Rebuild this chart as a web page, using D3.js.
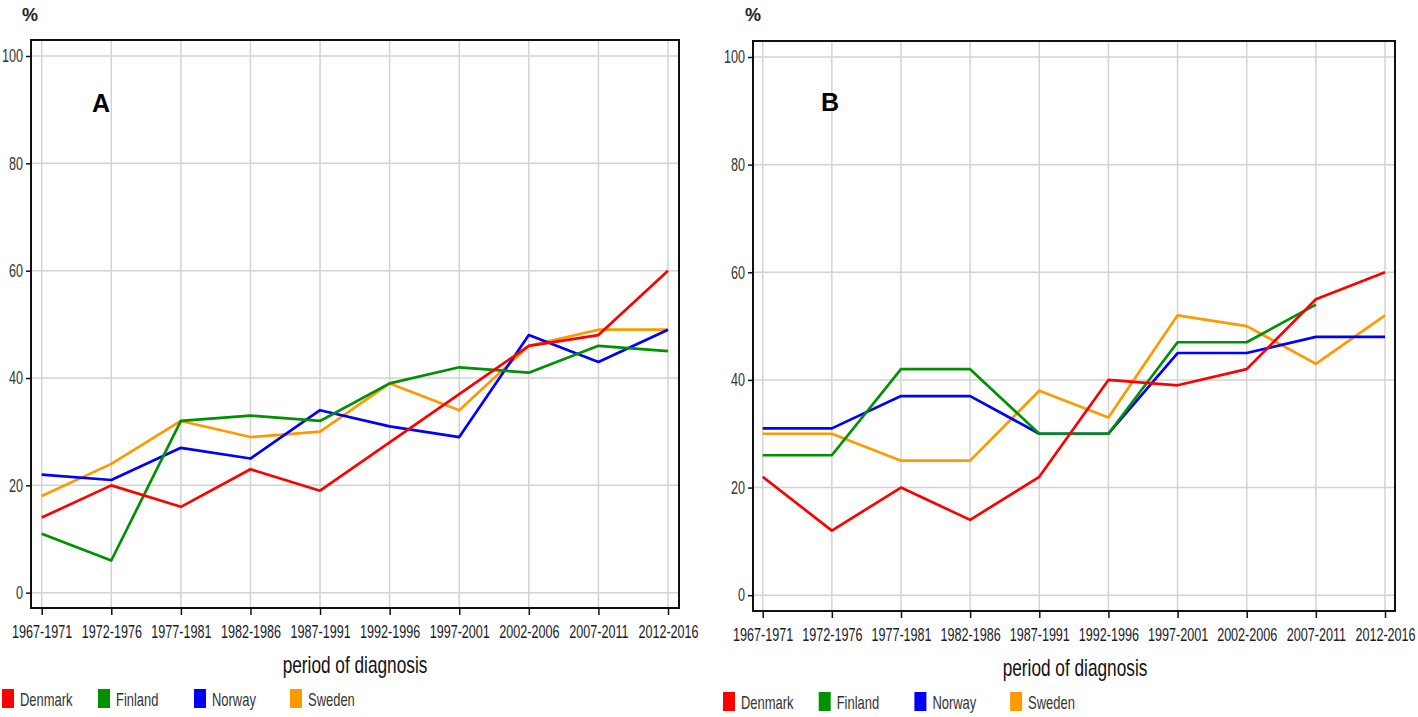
<!DOCTYPE html>
<html><head><meta charset="utf-8">
<script src="https://cdn.jsdelivr.net/npm/d3@7"></script>
<style>
body{margin:0;background:#fff;}
text{font-family:"Liberation Sans",Arial,sans-serif;}
</style></head>
<body><svg id="chart" width="1418" height="717"></svg>
<script>
const periods = ["1967-1971","1972-1976","1977-1981","1982-1986","1987-1991","1992-1996","1997-2001","2002-2006","2007-2011","2012-2016"];
const yTicks = [0,20,40,60,80,100];
const countries = ["Denmark","Finland","Norway","Sweden"];
const colors = ["#ff0000","#009100","#0000ff","#ff9900"];

const denmarkA = [14,20,16,23,19,28,37,46,48,60];
const finlandA = [11,6,32,33,32,39,42,41,46,45];
const norwayA  = [22,21,27,25,34,31,29,48,43,49];
const swedenA  = [18,24,32,29,30,39,34,46,49,49];

const denmarkB = [22,12,20,14,22,40,39,42,55,60];
const finlandB = [26,26,42,42,30,30,47,47,54,null];
const norwayB  = [31,31,37,37,30,30,45,45,48,48];
const swedenB  = [30,30,25,25,38,33,52,50,43,52];

const panels = [
  {label:"A", series:[denmarkA,finlandA,norwayA,swedenA],
   frame:{l:31,r:679,t:40,b:608}, xr:[41.7,668], yr:[592.7,56],
   pct:[22,21], letter:[92,112], xlab:[355,673], tickLabY:638, ytickX:23,
   leg:{x:2,y:689,step:96}},
  {label:"B", series:[denmarkB,finlandB,norwayB,swedenB],
   frame:{l:753,r:1395,t:41,b:611}, xr:[762.7,1385], yr:[595.2,57],
   pct:[745,21], letter:[821,111], xlab:[1075,676], tickLabY:641, ytickX:745,
   leg:{x:723,y:692,step:95.7}}
];

// horizontally condense a text around its anchor point
function condense(sel, k){
  sel.each(function(){
    const t = d3.select(this);
    const x = +t.attr("x") || 0, y = +t.attr("y") || 0;
    t.attr("transform",`translate(${x},0) scale(${k},1) translate(${-x},0)`);
  });
}

const svg = d3.select("#chart");
svg.append("rect").attr("width",1418).attr("height",717).attr("fill","#fff");

panels.forEach(p=>{
  const g = svg.append("g");
  const x = d3.scalePoint().domain(periods).range(p.xr);
  const y = d3.scaleLinear().domain([0,100]).range(p.yr);
  const f = p.frame;
  // grid
  g.selectAll(".vg").data(periods).join("line")
    .attr("x1",d=>x(d)).attr("x2",d=>x(d)).attr("y1",f.t).attr("y2",f.b)
    .attr("stroke","#d3d3d3").attr("stroke-width",1.5);
  g.selectAll(".hg").data(yTicks).join("line")
    .attr("x1",f.l).attr("x2",f.r).attr("y1",d=>y(d)).attr("y2",d=>y(d))
    .attr("stroke","#d3d3d3").attr("stroke-width",1.5);
  // lines (Sweden first, Denmark on top)
  const line = d3.line().defined(d=>d.v!=null).x(d=>x(d.p)).y(d=>y(d.v));
  for(let i=countries.length-1;i>=0;i--){
    const data = periods.map((pp,j)=>({p:pp,v:p.series[i][j]}));
    g.append("path").attr("d",line(data)).attr("fill","none")
      .attr("stroke",colors[i]).attr("stroke-width",2.7).attr("stroke-linejoin","round");
  }
  // frame
  g.append("rect").attr("x",f.l).attr("y",f.t).attr("width",f.r-f.l).attr("height",f.b-f.t)
    .attr("fill","none").attr("stroke","#111").attr("stroke-width",2);
  // y axis ticks
  const yAx = d3.axisLeft(y).tickValues(yTicks).tickSize(5).tickPadding(4);
  const ya = g.append("g").attr("transform",`translate(${f.l},0)`).call(yAx);
  ya.select(".domain").remove();
  ya.selectAll(".tick line").attr("stroke","#111").attr("stroke-width",1.5);
  ya.selectAll(".tick text").attr("x",p.ytickX-f.l).attr("font-size",18).attr("fill","#333")
    .style("font-family",'"Liberation Sans",Arial,sans-serif');
  condense(ya.selectAll(".tick text"),0.7);
  // x axis ticks
  const xAx = d3.axisBottom(x).tickSize(7).tickPadding(0);
  const xa = g.append("g").attr("transform",`translate(0,${f.b})`).call(xAx);
  xa.select(".domain").remove();
  xa.selectAll(".tick line").attr("stroke","#111").attr("stroke-width",1.5);
  xa.selectAll(".tick text").attr("x",0).attr("y",p.tickLabY-f.b).attr("dy",0).attr("font-size",18).attr("fill","#1a1a2a")
    .style("font-family",'"Liberation Sans",Arial,sans-serif');
  condense(xa.selectAll(".tick text"),0.7);
  // labels
  g.append("text").attr("x",p.pct[0]).attr("y",p.pct[1]).text("%")
    .attr("font-size",18).attr("font-weight","bold").attr("fill","#222");
  g.append("text").attr("x",p.letter[0]).attr("y",p.letter[1]).text(p.label)
    .attr("font-size",25).attr("font-weight","bold").attr("fill","#000");
  const t = g.append("text").attr("x",p.xlab[0]).attr("y",p.xlab[1]).attr("text-anchor","middle")
    .text("period of diagnosis").attr("font-size",23).attr("fill","#111");
  condense(t,0.75);
  // legend
  const lg = g.selectAll(".leg").data(countries).join("g")
    .attr("transform",(d,i)=>`translate(${p.leg.x+i*p.leg.step},${p.leg.y})`);
  lg.append("rect").attr("width",12).attr("height",19).attr("fill",(d,i)=>colors[i]);
  const lt = lg.append("text").attr("x",18).attr("y",17).text(d=>d).attr("font-size",18).attr("fill","#333");
  condense(lt,0.72);
});
</script></body></html>
